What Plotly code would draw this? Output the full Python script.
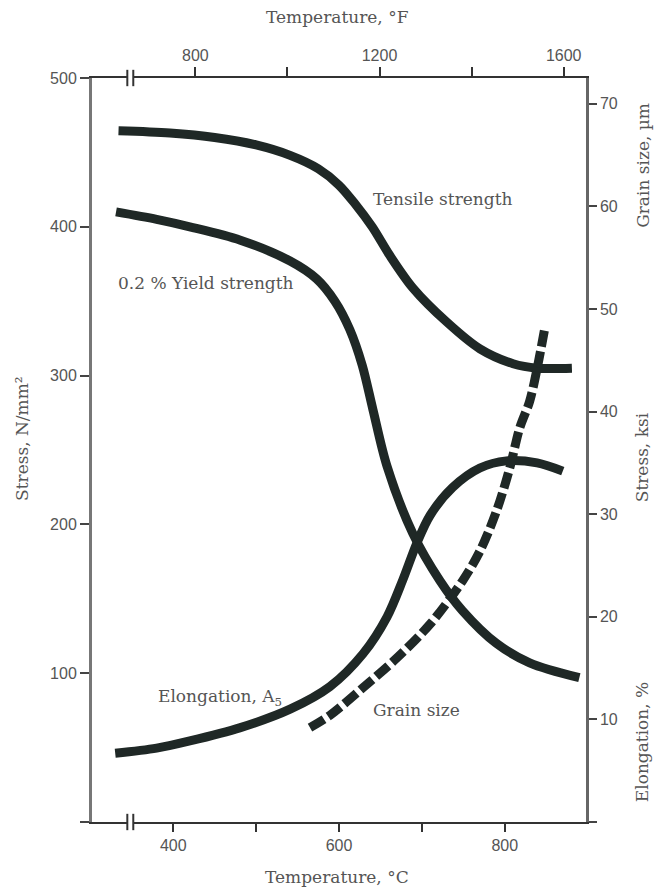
import plotly.graph_objects as go

# ---------------- data ----------------
tensile_T = [334, 396, 450, 500, 541, 575, 600, 620, 640, 661, 689, 730, 770, 810, 839, 881]
tensile_S = [464.5, 463, 460, 455, 448, 439, 428, 415, 400, 381, 359, 336, 318, 308, 305, 305]

yield_T = [331, 380, 420, 481, 541, 573, 595, 613, 628, 641, 658, 689, 722, 749, 790, 830, 890]
yield_S = [410, 405, 400, 391, 377, 365, 350, 331, 307, 277, 239, 194, 162, 142, 120, 107, 97]

elong_T = [330, 380, 420, 481, 541, 589, 629, 658, 677, 694, 710, 737, 770, 802, 839, 870]
elong_E = [6.7, 7.2, 7.9, 9.2, 11.0, 13.2, 16.4, 20.0, 23.6, 27.2, 29.9, 32.6, 34.5, 35.2, 35.0, 34.2]

grain_T = [565, 589, 629, 670, 710, 749, 770, 790, 806, 818, 830, 839, 848]
grain_G = [9.2, 10.4, 13.1, 16.0, 19.3, 23.5, 26.4, 30.3, 34.5, 38.4, 41.0, 44.2, 48.0]

c_ticks = [400, 500, 600, 700, 800]
c_labels = ["400", "", "600", "", "800"]
f_ticks = [800, 1000, 1200, 1400, 1600]
f_labels = ["800", "", "1200", "", "1600"]
stress_ticks = [0, 100, 200, 300, 400, 500]
stress_labels = ["", "100", "200", "300", "400", "500"]
right_ticks = [0, 10, 20, 30, 40, 50, 60, 70]
right_labels = ["", "10", "20", "30", "40", "50", "60", "70"]

T_MIN, T_MAX = 302, 898
S_MAX = 500
MPA_PER_KSI = 6.895

# ---------------- styles ----------------
INK = "#1f2826"
TXT = "#555555"
SERIF = "DejaVu Serif"
SANS = "Liberation Sans"
LW = 9
SM = 0.9

fig = go.Figure()

fig.add_trace(go.Scatter(x=tensile_T, y=tensile_S, mode="lines",
                         line=dict(color=INK, width=LW, shape="spline", smoothing=SM),
                         xaxis="x", yaxis="y", showlegend=False, hoverinfo="skip"))
fig.add_trace(go.Scatter(x=yield_T, y=yield_S, mode="lines",
                         line=dict(color=INK, width=LW, shape="spline", smoothing=SM),
                         xaxis="x", yaxis="y", showlegend=False, hoverinfo="skip"))
fig.add_trace(go.Scatter(x=elong_T, y=elong_E, mode="lines",
                         line=dict(color=INK, width=LW, shape="spline", smoothing=SM),
                         xaxis="x", yaxis="y2", showlegend=False, hoverinfo="skip"))
fig.add_trace(go.Scatter(x=grain_T, y=grain_G, mode="lines",
                         line=dict(color=INK, width=LW, shape="spline", smoothing=SM, dash="16px,5px"),
                         xaxis="x", yaxis="y2", showlegend=False, hoverinfo="skip"))

# invisible trace to activate the top (°F) axis
fig.add_trace(go.Scatter(x=[T_MIN * 9 / 5 + 32, T_MAX * 9 / 5 + 32], y=[0, 0], mode="lines",
                         line=dict(width=0), opacity=0, xaxis="x2", yaxis="y", showlegend=False, hoverinfo="skip"))

tickfont = dict(family=SANS, size=16, color=TXT)

fig.update_layout(
    width=649, height=880,
    margin=dict(l=84, r=71, t=70, b=66),
    paper_bgcolor="white", plot_bgcolor="white",
    xaxis=dict(range=[T_MIN, T_MAX], tickvals=c_ticks, ticktext=c_labels, ticks="outside",
               ticklen=8, tickwidth=2, tickcolor="#333", showline=True, linewidth=2, linecolor="#333",
               showgrid=False, zeroline=False, tickfont=tickfont),
    xaxis2=dict(range=[T_MIN * 9 / 5 + 32, T_MAX * 9 / 5 + 32], overlaying="x", side="top",
                tickvals=f_ticks, ticktext=f_labels, ticks="outside", ticklen=9, tickwidth=2, tickcolor="#333",
                showline=True, linewidth=2, linecolor="#333", showgrid=False, zeroline=False, tickfont=tickfont),
    yaxis=dict(range=[0, S_MAX], tickvals=stress_ticks, ticktext=stress_labels, ticks="outside",
               ticklen=9, tickwidth=2, tickcolor="#444", showline=True, linewidth=3, linecolor="#777",
               showgrid=False, zeroline=False, tickfont=tickfont),
    yaxis2=dict(range=[0, S_MAX / MPA_PER_KSI], overlaying="y", side="right", tickvals=right_ticks,
                ticktext=right_labels, ticks="outside", ticklen=8, tickwidth=2, tickcolor="#444",
                showline=True, linewidth=2.5, linecolor="#666", showgrid=False, zeroline=False, tickfont=tickfont),
)

lab = dict(family=SERIF, size=17, color=TXT)
ttl = dict(family=SERIF, size=17, color=TXT)

def ann(text, x, y, xref="paper", yref="paper", xanchor="center", angle=0, font=ttl):
    return dict(text=text, x=x, y=y, xref=xref, yref=yref, xanchor=xanchor, yanchor="middle",
                textangle=angle, showarrow=False, font=font)

annotations = [
    ann("Tensile strength", 725, 419, "x", "y", font=lab),
    ann("0.2 % Yield strength", 331, 362, "x", "y", xanchor="left", font=lab),
    ann("Elongation, A<sub>5</sub>", 457, 84, "x", "y", font=lab),
    ann("Grain size", 694, 75, "x", "y", font=lab),
    ann("Temperature, °F", 0.496, 1.082),
    ann("Temperature, °C", 0.496, -0.0745),
    ann("Stress, N/mm²", -0.142, 0.516, angle=-90),
    ann("Grain size, µm", 1.115, 0.883, angle=-90),
    ann("Stress, ksi", 1.115, 0.49, angle=-90),
    ann("Elongation, %", 1.115, 0.107, angle=-90),
]
fig.update_layout(annotations=annotations)

# axis-break marks on bottom and top axes
shapes = []
b1, b2 = 344.6, 351.8
for yc in (0.0, 1.0):
    shapes.append(dict(type="rect", xref="x", yref="paper", x0=b1, x1=b2, y0=yc - 0.004, y1=yc + 0.004,
                       fillcolor="white", line=dict(width=0)))
    for bx in (b1, b2):
        shapes.append(dict(type="line", xref="x", yref="paper", x0=bx, x1=bx, y0=yc - 0.011, y1=yc + 0.011,
                           line=dict(color="#333", width=2)))
fig.update_layout(shapes=shapes)

fig.write_html("out.html")
